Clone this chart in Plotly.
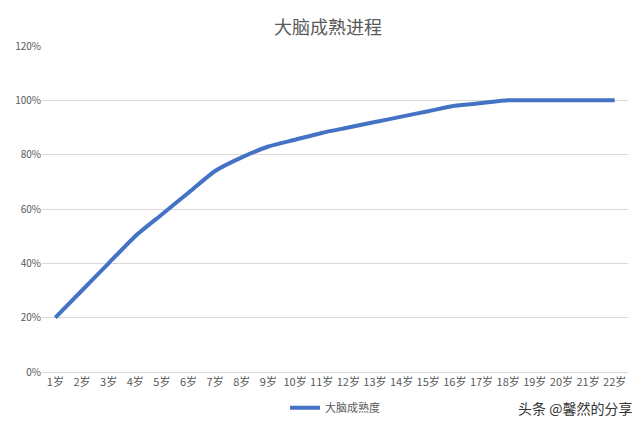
import plotly.graph_objects as go

categories = [f"{i}岁" for i in range(1, 23)]
values = [0.20, 0.30, 0.40, 0.50, 0.58, 0.66, 0.74, 0.79, 0.83, 0.855, 0.88, 0.90,
          0.92, 0.94, 0.96, 0.98, 0.99, 1.00, 1.00, 1.00, 1.00, 1.00]
series_name = "大脑成熟度"
title = "大脑成熟进程"

fig = go.Figure(go.Scatter(x=categories, y=values, mode="lines", name=series_name,
                           line=dict(color="#4472C4", width=4, shape="spline", smoothing=0.6)))
font = "Noto Sans CJK SC"
fig.update_layout(
    width=640, height=427, paper_bgcolor="white", plot_bgcolor="white",
    margin=dict(l=34, r=20, t=38, b=63, autoexpand=False),
    title=dict(text=title, x=0.5, y=0.953, xanchor="center", yanchor="middle",
               font=dict(family=font, size=18, color="#595959")),
    font=dict(family=font, size=11, color="#595959"),
    showlegend=True,
    legend=dict(orientation="h", x=0.5, xanchor="center", y=-0.11, yanchor="middle", font=dict(size=11)),
    xaxis=dict(range=[-0.5, 21.5], showgrid=False, showline=True, linecolor="#D9D9D9", ticks="",
               tickfont=dict(size=11)),
    yaxis=dict(range=[0, 1.2], dtick=0.2, tickformat=".0%", gridcolor="#D9D9D9", zeroline=False,
               tickfont=dict(size=10)),
)
fig.add_annotation(text="头条 @馨然的分享", xref="paper", yref="paper", x=1.0, xshift=6, y=-0.11,
                   xanchor="right", yanchor="middle", showarrow=False,
                   font=dict(family=font, size=14, color="#333333"))
fig.write_html("out.html")
